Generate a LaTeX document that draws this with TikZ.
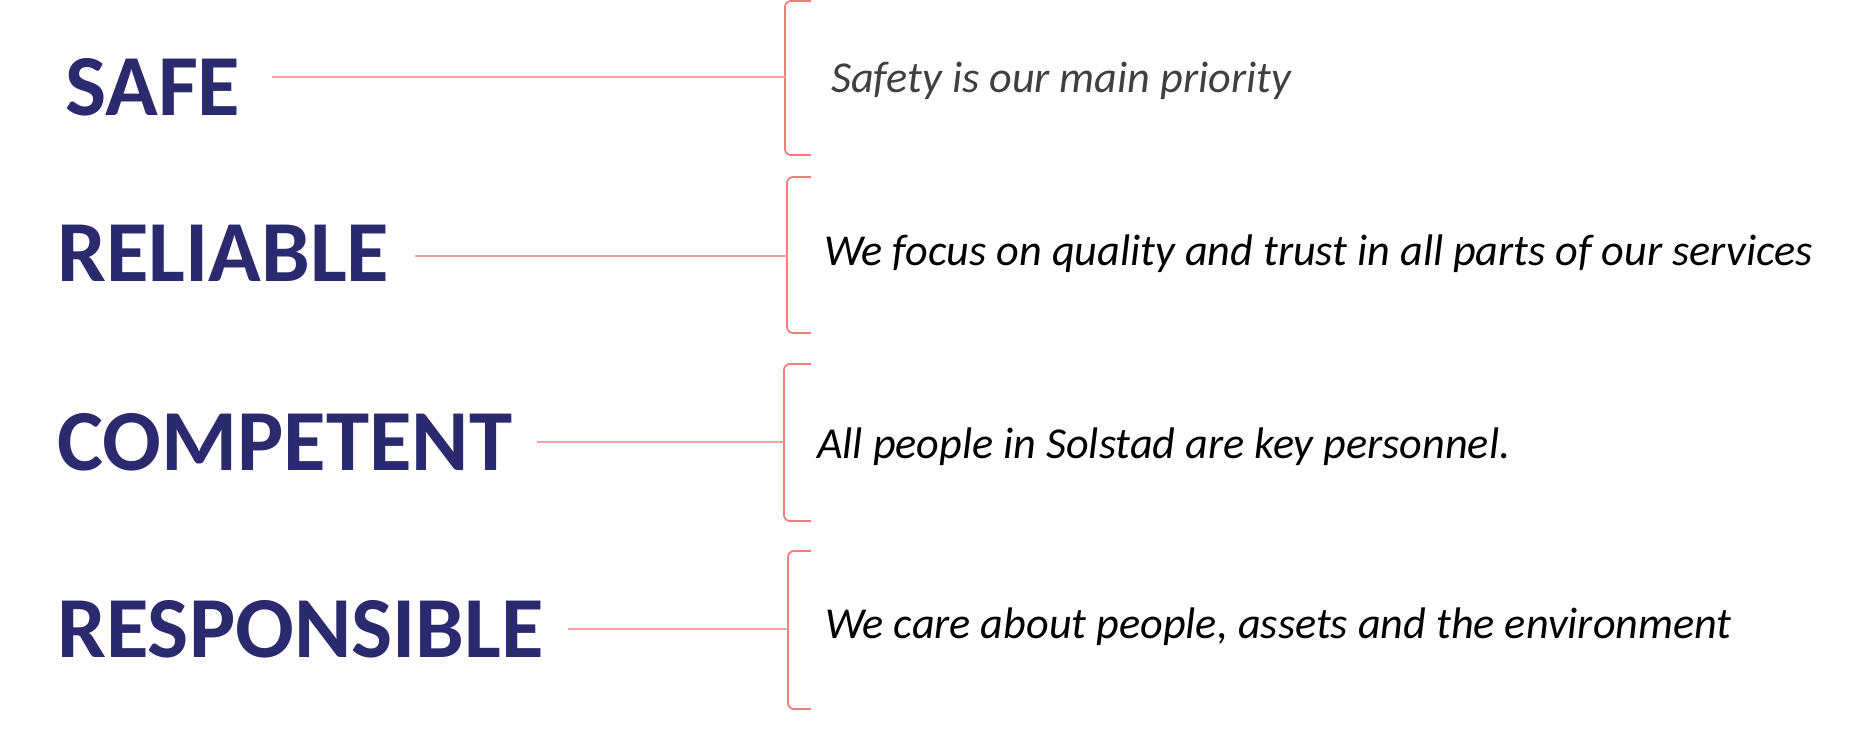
\documentclass[tikz,border=0pt]{standalone}
\usepackage{fontspec}
\setmainfont{Carlito}
\definecolor{navy}{RGB}{44,42,110}
\definecolor{pinkline}{RGB}{246,160,160}
\definecolor{brk}{RGB}{242,125,125}
\definecolor{greytext}{RGB}{64,64,64}
\tikzset{
  val/.style={anchor=base west, inner sep=0pt, text=navy, font=\fontsize{87}{87}\selectfont\bfseries},
  desc/.style={anchor=base west, inner sep=0pt, font=\fontsize{44.2}{44}\selectfont\itshape},
  conn/.style={draw=pinkline, line width=2pt},
  bracket/.style={draw=brk, line width=1.8pt, rounded corners=6pt}
}
\begin{document}
\begin{tikzpicture}[x=1pt,y=-1pt]
\useasboundingbox (0,0) rectangle (1850,731);
% labels
\node[val] (safe) at (65,115) {SAFE};
\node[val] (rel) at (57,281) {RELIABLE};
\node[val] (comp) at (57,470) {COMPETENT};
\node[val] (resp) at (57,657) {RESPONSIBLE};
% bracket midpoints
\coordinate (m1) at (785,77);
\coordinate (m2) at (787,256);
\coordinate (m3) at (784,442);
\coordinate (m4) at (788,629);
% brackets
\draw[bracket] (811,1) -- (785,1) -- (785,155) -- (811,155);
\draw[bracket] (811,177) -- (787,177) -- (787,333) -- (811,333);
\draw[bracket] (811,364) -- (784,364) -- (784,521) -- (811,521);
\draw[bracket] (811,551) -- (788,551) -- (788,709) -- (811,709);
% connectors
\draw[conn, shorten <=31pt] (safe.east |- m1) -- (m1);
\draw[conn, shorten <=25pt] (rel.east |- m2) -- (m2);
\draw[conn, shorten <=25pt] (comp.east |- m3) -- (m3);
\draw[conn, shorten <=24pt] (resp.east |- m4) -- (m4);
% descriptions
\node[desc, text=greytext] (d1) at (831,92) {Safety is our main priority};
\node[desc] (d2) at (824,265) {We focus on quality and trust in all parts of our services};
\node[desc] (d3) at (817,458) {All people in Solstad are key personnel.};
\node[desc] (d4) at (825,638) {We care about people, assets and the environment};
\end{tikzpicture}
\end{document}
